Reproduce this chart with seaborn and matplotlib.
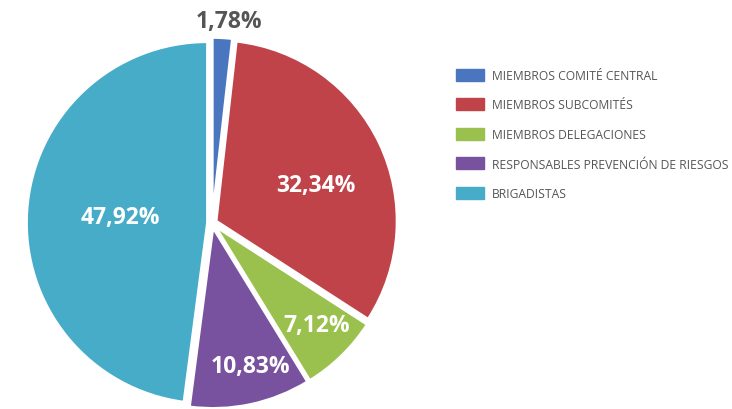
import matplotlib
matplotlib.use("Agg")
import matplotlib.pyplot as plt
import matplotlib.patches as mpatches
import numpy as np
import seaborn as sns

categories = ["MIEMBROS COMITÉ CENTRAL", "MIEMBROS SUBCOMITÉS", "MIEMBROS DELEGACIONES",
              "RESPONSABLES PREVENCIÓN DE RIESGOS", "BRIGADISTAS"]
values = [1.78, 32.34, 7.12, 10.83, 47.92]
labels = ["1,78%", "32,34%", "7,12%", "10,83%", "47,92%"]
colors = ["#4a76c0", "#c0434a", "#9ac04d", "#78529e", "#46acc8"]

sns.set_theme(style="white")
plt.rcParams['font.family'] = ['Open Sans', 'DejaVu Sans']

W, H = 732, 410
fig = plt.figure(figsize=(W / 100, H / 100), dpi=100)
R = 181
cx, cy = 212, 224
ax = fig.add_axes([(cx - R) / W, (H - cy - R) / H, 2 * R / W, 2 * R / H])

wedges, _ = ax.pie(values, colors=colors, startangle=90, counterclock=False,
                   explode=[0.025] * len(values), radius=1.0,
                   wedgeprops=dict(edgecolor="white", linewidth=2))
ax.set_xlim(-1, 1)
ax.set_ylim(-1, 1)
ax.set_aspect("equal")
ax.axis("off")

dist = [1.12, 0.61, 0.81, 0.82, 0.51]
ang_off = [-1.6, -5.2, 1.5, 2.9, 0.0]
for i, (w, lab) in enumerate(zip(wedges, labels)):
    ang = np.deg2rad((w.theta1 + w.theta2) / 2 + ang_off[i])
    x, y = dist[i] * np.cos(ang), dist[i] * np.sin(ang)
    col = "#555555" if i == 0 else "white"
    ax.text(x, y, lab, ha="center", va="center", fontsize=16.5, fontweight="bold",
            color=col, clip_on=False)

handles = [mpatches.Patch(color=c, label=l) for c, l in zip(colors, categories)]
fig.legend(handles=handles, loc="upper left", bbox_to_anchor=(445 / W, 1 - 59 / H),
           frameon=False, fontsize=8.7, handlelength=2.3, handleheight=1.15,
           handletextpad=0.65, labelspacing=1.36, labelcolor="#555555")

fig.savefig("out.png", dpi=100)
